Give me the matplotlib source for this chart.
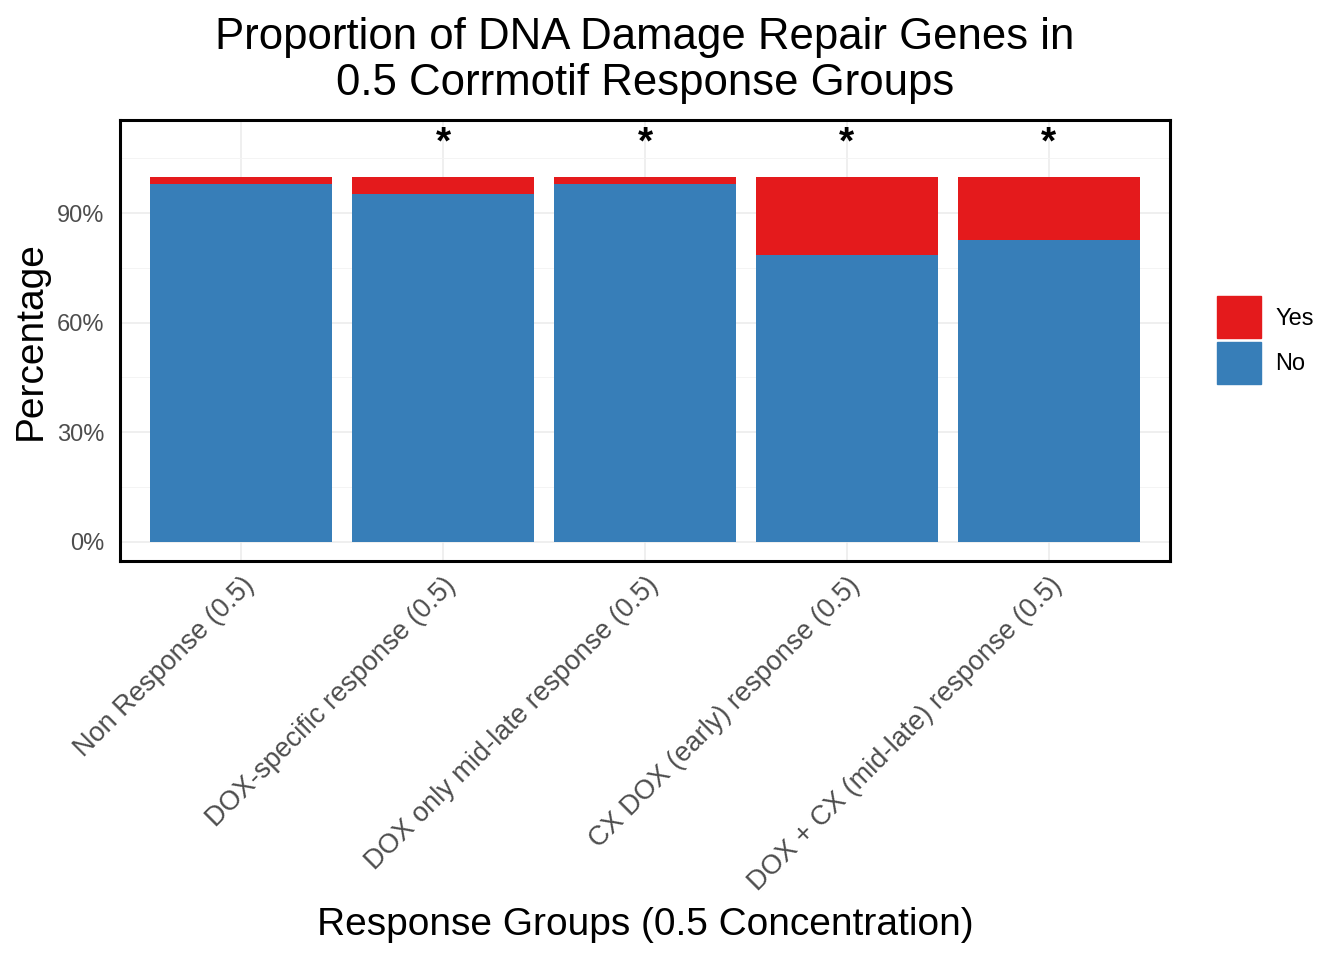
import matplotlib.pyplot as plt
import numpy as np
from matplotlib.patches import Patch

groups = ['Non Response (0.5)', 'DOX-specific response (0.5)', 'DOX only mid-late response (0.5)',
          'CX DOX (early) response (0.5)', 'DOX + CX (mid-late) response (0.5)']
no_pct = [97.9, 95.2, 97.9, 78.4, 82.5]
yes_pct = [100 - v for v in no_pct]
signif = ['', '*', '*', '*', '*']

blue = '#377EB8'
red = '#E41A1C'


def main():
    plt.rcParams['font.family'] = ['Liberation Sans', 'DejaVu Sans']
    fig = plt.figure(figsize=(13.44, 9.6), dpi=100)
    ax = fig.add_axes([120 / 1344, 1 - 561 / 960, 1050 / 1344, 441 / 960])

    x = np.arange(1, len(groups) + 1)
    ax.bar(x, no_pct, width=0.9, color=blue, zorder=2)
    ax.bar(x, yes_pct, width=0.9, bottom=no_pct, color=red, zorder=2)
    for xi, s in zip(x, signif):
        if s:
            ax.text(xi, 109, s, ha='center', va='center', fontsize=28, fontweight='bold', zorder=3)

    ax.set_xlim(0.4, 5.6)
    ax.set_ylim(-5.3, 115.5)
    ax.set_yticks([0, 30, 60, 90])
    ax.set_yticks([15, 45, 75, 105], minor=True)
    ax.set_yticklabels(['0%', '30%', '60%', '90%'])
    ax.set_xticks(x)
    ax.set_xticklabels(groups, rotation=45, ha='right', va='top', rotation_mode='anchor')
    ax.grid(True, which='major', color='#EBEBEB', linewidth=1.1, zorder=0)
    ax.grid(True, which='minor', axis='y', color='#F3F3F3', linewidth=0.6, zorder=0)
    ax.set_axisbelow(True)
    ax.tick_params(axis='both', which='both', length=0, labelcolor='#4D4D4D')
    ax.tick_params(axis='y', labelsize=17, pad=11)
    ax.tick_params(axis='x', labelsize=19.5, pad=8)
    for lbl in ax.get_xticklabels():
        lbl.set_x(lbl.get_position()[0])
    for sp in ax.spines.values():
        sp.set_linewidth(2.2)
        sp.set_color('black')

    ax.set_ylabel('Percentage', fontsize=28, labelpad=6)
    ax.set_xlabel('Response Groups (0.5 Concentration)', fontsize=28, labelpad=8)
    ax.set_title('Proportion of DNA Damage Repair Genes in\n0.5 Corrmotif Response Groups',
                 fontsize=31.5, pad=18, linespacing=1.17)

    handles = [Patch(color=red, label='Yes'), Patch(color=blue, label='No')]
    fig.legend(handles=handles, loc='center left', bbox_to_anchor=(1196 / 1344, 1 - 340 / 960),
               frameon=False, fontsize=17, handlelength=1.85, handleheight=2.36,
               handletextpad=0.6, labelspacing=0.15)

    plt.savefig('out.png', dpi=100)


if __name__ == '__main__':
    main()
